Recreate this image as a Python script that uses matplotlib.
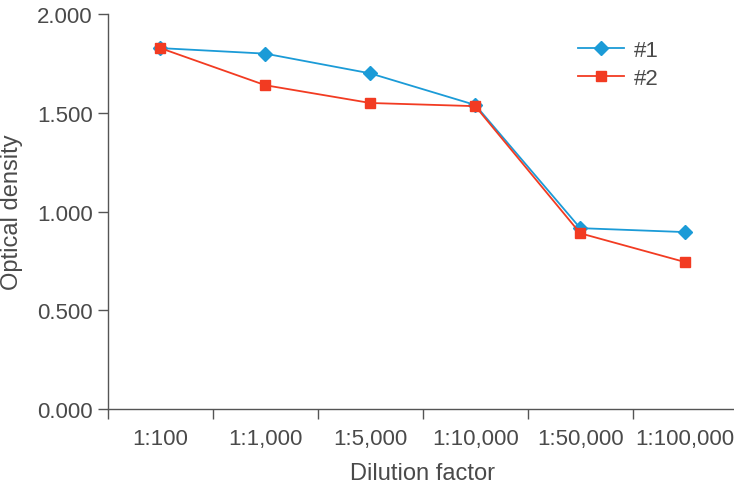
import numpy as np
import matplotlib
matplotlib.use("Agg")
import matplotlib.pyplot as plt

plt.rcParams['font.family'] = ['Liberation Sans', 'DejaVu Sans']

# data
dilutions = ["1:100", "1:1,000", "1:5,000", "1:10,000", "1:50,000", "1:100,000"]
series1 = [1.828, 1.800, 1.700, 1.540, 0.916, 0.896]
series2 = [1.828, 1.640, 1.550, 1.534, 0.890, 0.744]
yticks = [0.0, 0.5, 1.0, 1.5, 2.0]

BLUE = "#1b9bd7"
RED = "#f23b22"
TXT = "#4a4a4a"
FS = 16

fig = plt.figure(figsize=(7.34, 4.89), dpi=100)
ax = fig.add_axes([0.147, 0.1616, 0.858, 0.8074])

x = np.arange(len(dilutions)) + 0.5
ax.plot(x, series1, color=BLUE, lw=1.3, marker="D", ms=7, label="#1")
ax.plot(x, series2, color=RED, lw=1.3, marker="s", ms=6.5, label="#2")

ax.set_xlim(0, len(dilutions))
ax.set_ylim(0, 2.0)
ax.set_yticks(yticks)
ax.set_yticklabels(["%.3f" % v for v in yticks])

ax.set_xticks(np.arange(len(dilutions) + 1))
ax.set_xticklabels([])
ax.set_xticks(x, minor=True)
ax.set_xticklabels(dilutions, minor=True)
ax.tick_params(axis="x", which="minor", length=0, pad=14, labelsize=FS, colors=TXT)
ax.tick_params(axis="x", which="major", length=7, width=1, color="#555555")
ax.tick_params(axis="y", length=7, width=1, color="#555555", labelsize=FS, labelcolor=TXT, pad=4)

for s in ["top", "right"]:
    ax.spines[s].set_visible(False)
for s in ["left", "bottom"]:
    ax.spines[s].set_color("#555555")
    ax.spines[s].set_linewidth(1)

ax.set_xlabel("Dilution factor", fontsize=FS + 1, color=TXT, labelpad=9)
ax.set_ylabel("Optical density", fontsize=FS + 1, color=TXT, labelpad=10)

leg = ax.legend(loc="upper left", bbox_to_anchor=(0.714, 0.985), frameon=False,
                fontsize=FS, handlelength=2.1, handletextpad=0.45, labelspacing=0.3)
for t in leg.get_texts():
    t.set_color(TXT)

fig.savefig("out.png", dpi=100)
